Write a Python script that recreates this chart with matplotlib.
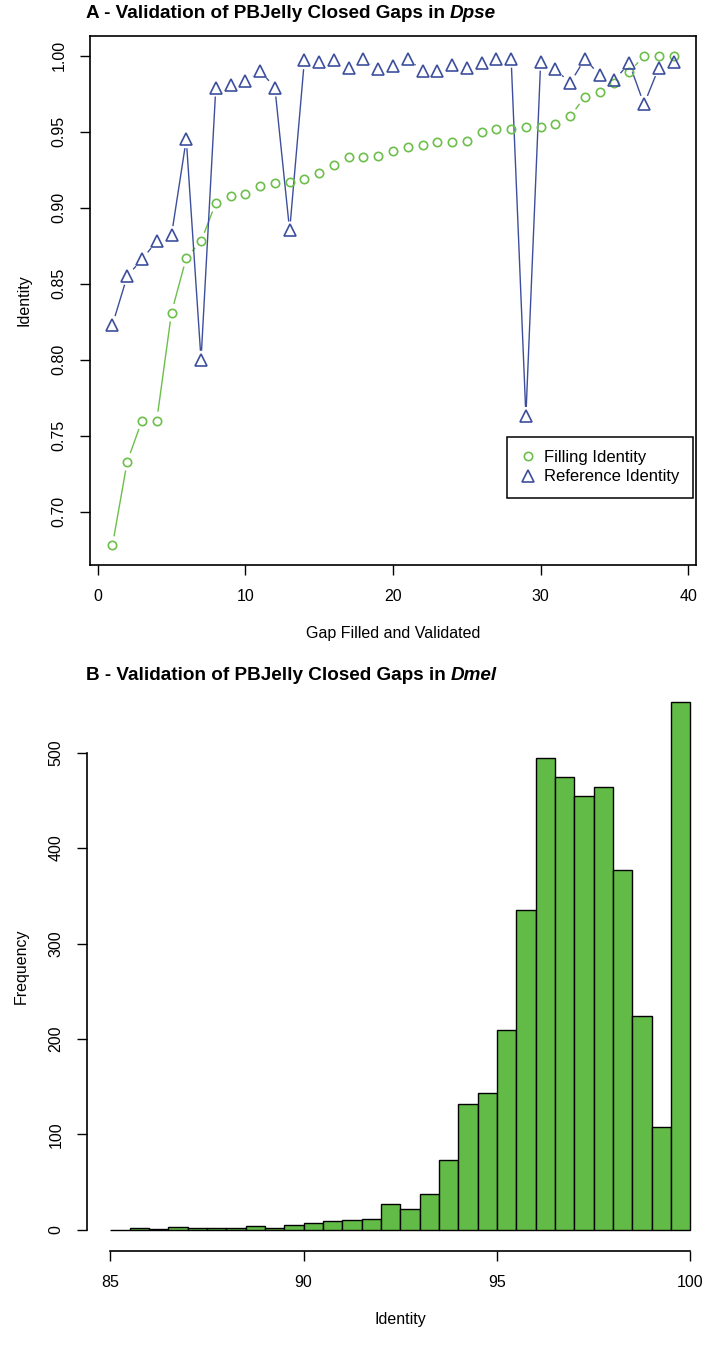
import matplotlib
matplotlib.use("Agg")
import matplotlib.pyplot as plt
import numpy as np
from matplotlib.collections import LineCollection
from matplotlib.lines import Line2D

plt.rcParams["font.family"] = ["Liberation Sans", "DejaVu Sans"]

W, H, DPI = 709, 1349, 100
GREEN = "#6cbf4a"
BLUE = "#3d4f9c"
BAR_GREEN = "#63bb47"

# Panel A data
gap_index = list(range(1, 40))
filling_identity = [
    0.678, 0.733, 0.760, 0.760, 0.831, 0.867, 0.878, 0.903, 0.908, 0.909,
    0.914, 0.916, 0.917, 0.919, 0.923, 0.928, 0.933, 0.933, 0.934, 0.937,
    0.940, 0.941, 0.943, 0.943, 0.944, 0.950, 0.952, 0.952, 0.953, 0.953,
    0.955, 0.960, 0.973, 0.976, 0.982, 0.989, 1.000, 1.000, 1.000,
]
reference_identity = [
    0.823, 0.855, 0.866, 0.878, 0.882, 0.945, 0.800, 0.979, 0.981, 0.983,
    0.990, 0.979, 0.885, 0.997, 0.996, 0.997, 0.992, 0.998, 0.991, 0.993,
    0.998, 0.990, 0.990, 0.994, 0.992, 0.995, 0.998, 0.998, 0.763, 0.996,
    0.991, 0.982, 0.998, 0.987, 0.984, 0.995, 0.968, 0.992, 0.996,
]

# Panel B data (histogram, 0.5 wide bins)
bin_left = [85.0, 85.5, 86.0, 86.5, 87.0, 87.5, 88.0, 88.5, 89.0, 89.5,
            90.0, 90.5, 91.0, 91.5, 92.0, 92.5, 93.0, 93.5, 94.0, 94.5,
            95.0, 95.5, 96.0, 96.5, 97.0, 97.5, 98.0, 98.5, 99.0, 99.5]
bin_counts = [0, 2, 1, 3, 2, 2, 2, 4, 2, 5,
              7, 9, 10, 11, 27, 22, 38, 73, 132, 143,
              209, 335, 494, 475, 455, 464, 377, 224, 108, 553]


def px_box(left, top, right, bottom):
    return [left / W, 1 - bottom / H, (right - left) / W, (bottom - top) / H]


def gapped_line(ax, x, y, color, gap=9.0):
    # R type="b": segments stop short of the points
    pts = ax.transData.transform(np.column_stack([x, y]))
    inv = ax.transData.inverted()
    segs = []
    for p0, p1 in zip(pts[:-1], pts[1:]):
        d = p1 - p0
        length = np.hypot(*d)
        if length <= 2 * gap:
            continue
        u = d / length
        segs.append(inv.transform(np.array([p0 + u * gap, p1 - u * gap])))
    ax.add_collection(LineCollection(segs, colors=color, linewidths=1.0))


def r_axis_style(ax):
    ax.tick_params(direction="out", length=7, width=1.0, labelsize=11.5,
                   pad=10, colors="black")
    for lab in ax.get_yticklabels():
        lab.set_rotation(90)
        lab.set_va("center")


fig = plt.figure(figsize=(W / DPI, H / DPI), dpi=DPI)
renderer = fig.canvas.get_renderer()


def two_part_title(x_px, y_px, plain, ital):
    t = fig.text(x_px / W, 1 - y_px / H, plain, fontsize=13.6,
                 fontweight="bold", ha="left", va="center")
    bb = t.get_window_extent(renderer=renderer)
    fig.text((bb.x1 + 5) / W, 1 - y_px / H, ital, fontsize=13.6,
             fontweight="bold", style="italic", ha="left", va="center")


# ---- Panel A
ax1 = fig.add_axes(px_box(90, 36, 696, 565))
ax1.set_xlim(-0.52, 40.52)
ax1.set_ylim(0.665, 1.0129)
gapped_line(ax1, gap_index, filling_identity, GREEN)
gapped_line(ax1, gap_index, reference_identity, BLUE)
ax1.plot(gap_index, filling_identity, "o", ms=6, mfc="none", mec=GREEN, mew=1.2)
ax1.plot(gap_index, reference_identity, "^", ms=8, mfc="none", mec=BLUE, mew=1.2)
ax1.set_xticks([0, 10, 20, 30, 40])
ax1.set_yticks([0.70, 0.75, 0.80, 0.85, 0.90, 0.95, 1.00])
ax1.set_yticklabels(["0.70", "0.75", "0.80", "0.85", "0.90", "0.95", "1.00"])
for s in ax1.spines.values():
    s.set_linewidth(1.2)
r_axis_style(ax1)
ax1.set_xlabel("Gap Filled and Validated", fontsize=11.5, labelpad=16)
ax1.set_ylabel("Identity", fontsize=11.5, labelpad=14)
handles = [
    Line2D([], [], ls="none", marker="o", ms=6, mfc="none", mec=GREEN, mew=1.2),
    Line2D([], [], ls="none", marker="^", ms=8, mfc="none", mec=BLUE, mew=1.2),
]
leg = ax1.legend(handles, ["Filling Identity", "Reference Identity"],
                 loc="lower right", bbox_to_anchor=(0.995, 0.127),
                 borderaxespad=0, fancybox=False, edgecolor="black",
                 framealpha=1, fontsize=12, handlelength=1.0,
                 handletextpad=0.45, labelspacing=0.25, borderpad=0.8)
leg.get_frame().set_linewidth(1.1)
two_part_title(86, 14, "A - Validation of PBJelly Closed Gaps in", "Dpse")

# ---- Panel B
ax2 = fig.add_axes(px_box(87, 681, 713.5, 1251))
ax2.bar(bin_left, bin_counts, width=0.5, align="edge", color=BAR_GREEN,
        edgecolor="black", linewidth=1.0)
ax2.set_xlim(84.4, 100.6)
ax2.set_ylim(-22.1, 575.1)
ax2.set_xticks([85, 90, 95, 100])
ax2.set_yticks([0, 100, 200, 300, 400, 500])
ax2.spines["top"].set_visible(False)
ax2.spines["right"].set_visible(False)
ax2.spines["left"].set_bounds(0, 500)
ax2.spines["bottom"].set_bounds(85, 100)
for s in ax2.spines.values():
    s.set_linewidth(1.2)
r_axis_style(ax2)
ax2.set_xlabel("Identity", fontsize=11.5, labelpad=16)
ax2.set_ylabel("Frequency", fontsize=11.5, labelpad=14)
two_part_title(86, 676, "B - Validation of PBJelly Closed Gaps in", "Dmel")

fig.savefig("out.png", dpi=DPI)
